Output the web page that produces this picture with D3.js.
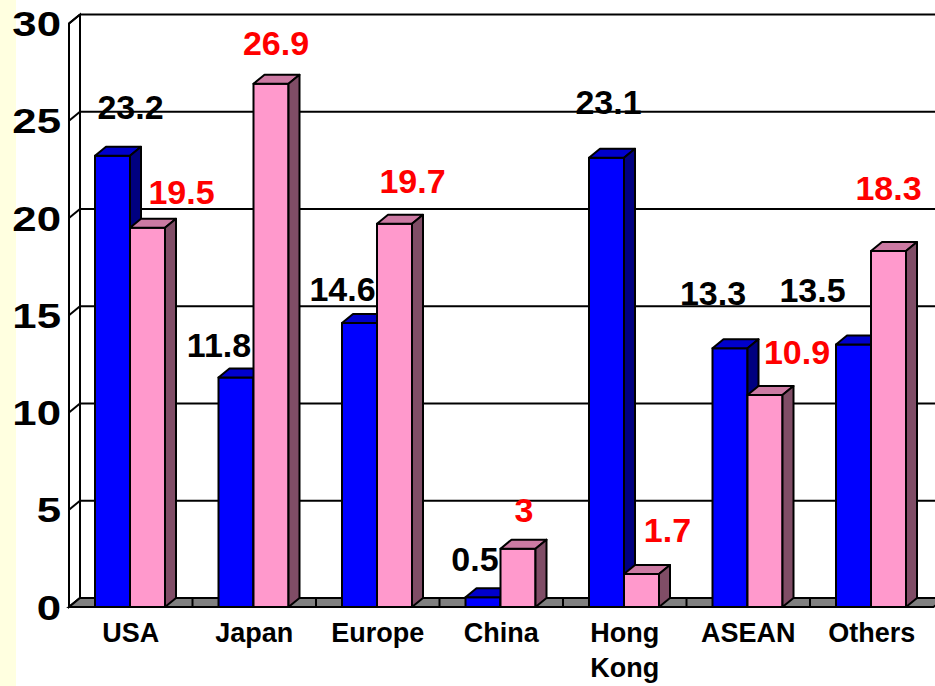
<!DOCTYPE html>
<html>
<head>
<meta charset="utf-8">
<script src="https://cdn.jsdelivr.net/npm/d3@7"></script>
<style>
  body { margin: 0; background: #fff; }
  svg { display: block; }
  text { font-family: Arial, "Liberation Sans", sans-serif; font-weight: bold; }
</style>
</head>
<body>
<script>
var categories = ["USA", "Japan", "Europe", "China", "Hong Kong", "ASEAN", "Others"];
var series1 = [23.2, 11.8, 14.6, 0.5, 23.1, 13.3, 13.5];
var series2 = [19.5, 26.9, 19.7, 3, 1.7, 10.9, 18.3];
var yTicks = [0, 5, 10, 15, 20, 25, 30];

// hand-placed label offsets (px) from the top-centre of each bar
var nudge1 = [[18, -37], [-17, -20], [-17, -22], [-8, -26], [2, -44], [-17, -43], [-41, -42]];
var nudge2 = [[34, -24], [5, -29], [18, -31], [6, -27], [26, -32], [32, -31], [0, -51]];

var width = 935, height = 686;
var DX = 11, DY = 9;

var svg = d3.select("body").append("svg")
  .attr("width", width)
  .attr("height", height);

svg.append("rect").attr("x", 0).attr("y", 0).attr("width", 16).attr("height", height)
  .attr("fill", "#FFFFE0");

var x = d3.scaleBand().domain(categories).range([69, 933.5]);
var xs = d3.scaleBand().domain(["s1", "s2"]).range([26, 96]);
var y = d3.scaleLinear().domain([0, 30]).range([607, 23.5]);

var y0 = y(0), yTop = y(30);
var xL = x.range()[0], xR = x.range()[1];

// left wall
svg.append("polygon")
  .attr("points", [[xL, y0], [xL, yTop], [xL + DX, yTop - DY], [xL + DX, y0 - DY]].join(" "))
  .attr("fill", "#fff").attr("stroke", "#000").attr("stroke-width", 2);

// grid lines on back wall + left wall
var grid = svg.append("g").attr("stroke", "#000").attr("stroke-width", 2);
yTicks.forEach(function (t) {
  grid.append("line").attr("x1", xL).attr("y1", y(t)).attr("x2", xL + DX).attr("y2", y(t) - DY);
  if (t > 0) grid.append("line").attr("x1", xL + DX).attr("y1", y(t) - DY).attr("x2", width + 5).attr("y2", y(t) - DY);
});

// floor
svg.append("polygon")
  .attr("points", [[xL, y0], [xR, y0], [xR + DX, y0 - DY], [xL + DX, y0 - DY]].join(" "))
  .attr("fill", "#808080").attr("stroke", "#000").attr("stroke-width", 2);
categories.forEach(function (c, i) {
  if (i == 0) return;
  svg.append("line").attr("x1", x(c)).attr("x2", x(c))
    .attr("y1", y0 - DY).attr("y2", y0)
    .attr("stroke", "#000").attr("stroke-width", 2);
});

// y tick labels
svg.selectAll(".ytick").data(yTicks).enter().append("text")
  .attr("class", "ytick")
  .attr("transform", function (d) { return "translate(61," + (y(d) + 12.5) + ") scale(1.25,1)"; })
  .attr("text-anchor", "end")
  .style("font-size", "35px")
  .text(function (d) { return d; });

function drawBar(g, bx, bw, v, cols) {
  var yt = y(v);
  g.append("polygon")
    .attr("points", [[bx, y0], [bx, yt], [bx + bw, yt], [bx + bw, y0]].join(" "))
    .attr("fill", cols[0]);
  g.append("polygon")
    .attr("points", [[bx, yt], [bx + DX, yt - DY], [bx + bw + DX, yt - DY], [bx + bw, yt]].join(" "))
    .attr("fill", cols[1]);
  g.append("polygon")
    .attr("points", [[bx + bw, y0], [bx + bw, yt], [bx + bw + DX, yt - DY], [bx + bw + DX, y0 - DY]].join(" "))
    .attr("fill", cols[2]);
}

var blue = ["#0000FF", "#0000CC", "#000080"];
var pink = ["#FF99CC", "#CC7AA3", "#804D66"];

var bars = svg.append("g").attr("stroke", "#000").attr("stroke-width", 2).attr("stroke-linejoin", "round");
categories.forEach(function (c, i) {
  drawBar(bars, x(c) + xs("s1"), xs.bandwidth(), series1[i], blue);
  drawBar(bars, x(c) + xs("s2"), xs.bandwidth(), series2[i], pink);
});

// value labels
svg.selectAll(".lab1").data(series1).enter().append("text")
  .attr("class", "lab1")
  .attr("x", function (d, i) { return x(categories[i]) + xs("s1") + xs.bandwidth() / 2 + nudge1[i][0]; })
  .attr("y", function (d, i) { return y(d) + nudge1[i][1]; })
  .attr("text-anchor", "middle")
  .attr("fill", "#000")
  .style("font-size", "34px")
  .text(function (d) { return d; });

svg.selectAll(".lab2").data(series2).enter().append("text")
  .attr("class", "lab2")
  .attr("x", function (d, i) { return x(categories[i]) + xs("s2") + xs.bandwidth() / 2 + nudge2[i][0]; })
  .attr("y", function (d, i) { return y(d) + nudge2[i][1]; })
  .attr("text-anchor", "middle")
  .attr("fill", "#FF0000")
  .style("font-size", "34px")
  .text(function (d) { return d; });

// category labels
var cat = svg.selectAll(".cat").data(categories).enter().append("text")
  .attr("class", "cat")
  .attr("text-anchor", "middle")
  .style("font-size", "27px");
cat.each(function (c) {
  var t = d3.select(this);
  c.split(" ").forEach(function (w, k) {
    t.append("tspan")
      .attr("x", x(c) + x.bandwidth() / 2)
      .attr("y", 642 + k * 35)
      .text(w);
  });
});
</script>
</body>
</html>
